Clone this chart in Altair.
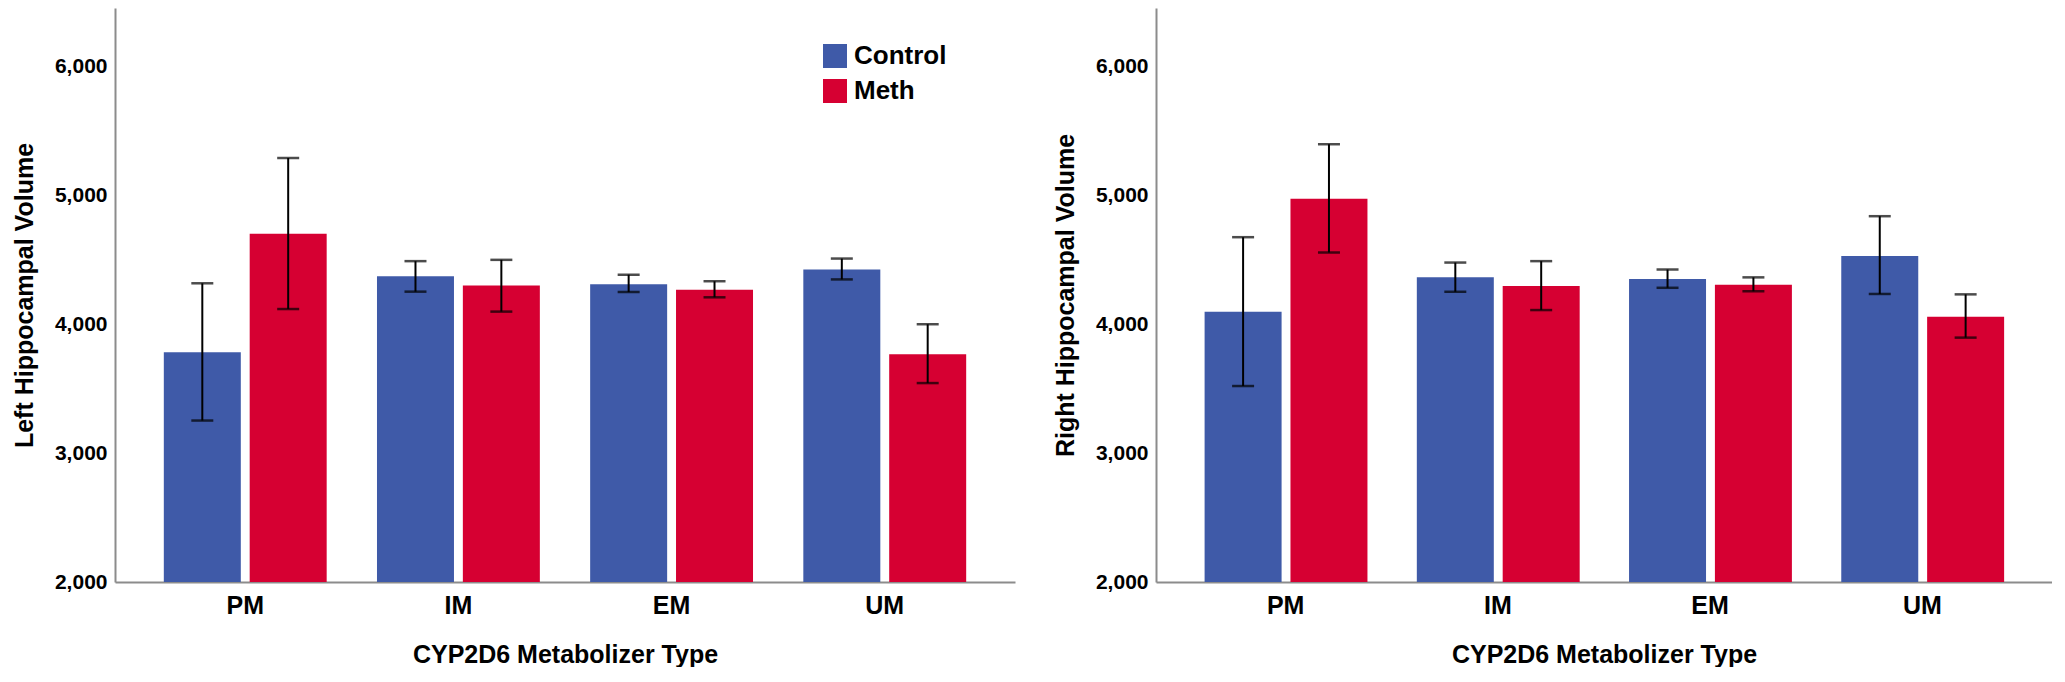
import altair as alt
import pandas as pd

categories = ["PM", "IM", "EM", "UM"]
groups = ["Control", "Meth"]

left_control_mean = [3785, 4374, 4313, 4428]
left_control_lo = [3254, 4255, 4252, 4350]
left_control_hi = [4320, 4492, 4387, 4512]
left_meth_mean = [4705, 4303, 4269, 3768]
left_meth_lo = [4120, 4100, 4211, 3545]
left_meth_hi = [5293, 4502, 4336, 4002]

right_control_mean = [4098, 4366, 4353, 4532]
right_control_lo = [3522, 4254, 4285, 4237]
right_control_hi = [4678, 4481, 4427, 4841]
right_meth_mean = [4976, 4298, 4308, 4061]
right_meth_lo = [4559, 4112, 4258, 3898]
right_meth_hi = [5400, 4492, 4366, 4234]

y_ticks = [2000, 3000, 4000, 5000, 6000]
y_min, y_max = 2000, 6458

BLUE = "#3F5AA8"
RED = "#D60032"
FONT = "Liberation Sans"


def make_df(cm, clo, chi, mm, mlo, mhi):
    rows = []
    for i, c in enumerate(categories):
        rows.append({"cat": c, "grp": "Control", "mean": cm[i], "lo": clo[i], "hi": chi[i]})
        rows.append({"cat": c, "grp": "Meth", "mean": mm[i], "lo": mlo[i], "hi": mhi[i]})
    return pd.DataFrame(rows)


def panel(df, ytitle, w, show_legend):
    x = alt.X("cat:N", sort=categories,
              scale=alt.Scale(paddingInner=0.236, paddingOuter=0.229),
              axis=alt.Axis(title="CYP2D6 Metabolizer Type", labelAngle=0,
                            labelFontSize=25, labelFontWeight="bold", labelFont=FONT,
                            labelColor="black", ticks=False, labelPadding=11,
                            titleFontSize=25, titleFontWeight="bold", titleFont=FONT,
                            titlePadding=24, titleColor="black",
                            domainColor="#8c8c8c", domainWidth=2))
    xo = alt.XOffset("grp:N", sort=groups, scale=alt.Scale(paddingInner=0.1034, paddingOuter=0))
    yscale = alt.Scale(domain=[y_min, y_max], nice=False, zero=False)
    yaxis = alt.Axis(title=ytitle, values=y_ticks, format=",d", grid=False, ticks=False,
                     labelFontSize=21, labelFontWeight="bold", labelFont=FONT,
                     labelColor="black", labelPadding=8,
                     titleFontSize=25, titleFontWeight="bold", titleFont=FONT,
                     titleColor="black", titlePadding=17,
                     domainColor="#8c8c8c", domainWidth=2)
    if show_legend:
        legend = alt.Legend(title=None, orient="none", legendX=707, legendY=35,
                            symbolType="square", symbolSize=576, symbolStrokeWidth=0,
                            labelFontSize=26, labelFontWeight="bold", labelFont=FONT,
                            labelColor="black", labelOffset=6, rowPadding=9, padding=0)
    else:
        legend = None
    color = alt.Color("grp:N", sort=groups,
                      scale=alt.Scale(domain=groups, range=[BLUE, RED]), legend=legend)
    base = alt.Chart(df)
    bars = base.mark_bar(opacity=1).encode(
        x=x, xOffset=xo,
        y=alt.Y("mean:Q", scale=yscale, axis=yaxis),
        y2=alt.datum(y_min),
        color=color,
    )
    rules = base.mark_rule(color="black", strokeWidth=2).encode(
        x=alt.X("cat:N", sort=categories), xOffset=alt.XOffset("grp:N", sort=groups),
        y=alt.Y("lo:Q"), y2="hi:Q",
    )
    caps_hi = base.mark_tick(color="black", thickness=2.5, size=22).encode(
        x=alt.X("cat:N", sort=categories), xOffset=alt.XOffset("grp:N", sort=groups),
        y=alt.Y("hi:Q"),
    )
    caps_lo = base.mark_tick(color="black", thickness=2.5, size=22).encode(
        x=alt.X("cat:N", sort=categories), xOffset=alt.XOffset("grp:N", sort=groups),
        y=alt.Y("lo:Q"),
    )
    return alt.layer(bars, rules, caps_hi, caps_lo).properties(width=w, height=574)


left_df = make_df(left_control_mean, left_control_lo, left_control_hi,
                  left_meth_mean, left_meth_lo, left_meth_hi)
right_df = make_df(right_control_mean, right_control_lo, right_control_hi,
                   right_meth_mean, right_meth_lo, right_meth_hi)

left = panel(left_df, "Left Hippocampal Volume", 900, True)
right = panel(right_df, "Right Hippocampal Volume", 896, False)

chart = alt.hconcat(left, right, spacing=38).resolve_legend(color="independent").properties(
    padding={"left": 4, "top": 0, "right": 0, "bottom": 0},
    background="white",
).configure_view(strokeWidth=0, stroke="transparent")

chart.save("out.html", embed_options={"renderer": "svg", "actions": False})
